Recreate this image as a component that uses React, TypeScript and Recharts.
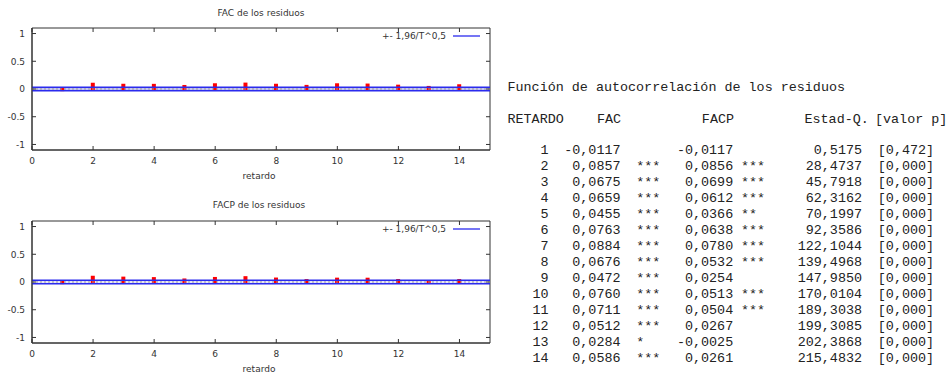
import React from 'react';
import { ComposedChart, Bar, XAxis, YAxis, ReferenceLine, ReferenceArea } from 'recharts';

const LAGS = [1, 2, 3, 4, 5, 6, 7, 8, 9, 10, 11, 12, 13, 14];
const FAC = [-0.0117, 0.0857, 0.0675, 0.0659, 0.0455, 0.0763, 0.0884, 0.0676, 0.0472, 0.076, 0.0711, 0.0512, 0.0284, 0.0586];
const FAC_STARS = ['', '***', '***', '***', '***', '***', '***', '***', '***', '***', '***', '***', '*', '***'];
const FACP = [-0.0117, 0.0856, 0.0699, 0.0612, 0.0366, 0.0638, 0.078, 0.0532, 0.0254, 0.0513, 0.0504, 0.0267, -0.0025, 0.0261];
const FACP_STARS = ['', '***', '***', '***', '**', '***', '***', '***', '', '***', '***', '', '', ''];
const Q_STAT = [0.5175, 28.4737, 45.7918, 62.3162, 70.1997, 92.3586, 122.1044, 139.4968, 147.985, 170.0104, 189.3038, 199.3085, 202.3868, 215.4832];
const P_VALUE = [0.472, 0, 0, 0, 0, 0, 0, 0, 0, 0, 0, 0, 0, 0];
const X_TICKS = [0, 2, 4, 6, 8, 10, 12, 14];
const Y_TICKS = [-1, -0.5, 0, 0.5, 1];
const BAND = 0.0319;
const LEGEND_LABEL = '+- 1,96/T^0,5';

const PLOT_LEFT = 32;
const PLOT_RIGHT = 490;
const AX = '#333';
const SANS = '"DejaVu Sans", Verdana, sans-serif';
const MONO = '"Courier New", "Liberation Mono", monospace';

const fmt = (v: number, d: number) => v.toFixed(d).replace('.', ',');

function makeXTick(top: number, bottom: number) {
  return (props: any) => {
    const { x, payload } = props;
    return (
      <g>
        <line x1={x} x2={x} y1={bottom} y2={bottom - 4} stroke={AX} />
        <line x1={x} x2={x} y1={top} y2={top + 4} stroke={AX} />
        <text x={x} y={bottom + 13.5} textAnchor="middle" fontFamily={SANS} fontSize={9} fill="#333">
          {payload.value}
        </text>
      </g>
    );
  };
}

const YTick = (props: any) => {
  const { y, payload } = props;
  return (
    <g>
      <line x1={PLOT_LEFT} x2={PLOT_LEFT + 4} y1={y} y2={y} stroke={AX} />
      <line x1={PLOT_RIGHT} x2={PLOT_RIGHT - 4} y1={y} y2={y} stroke={AX} />
      <text x={25} y={y + 3.3} textAnchor="end" fontFamily={SANS} fontSize={9} fill="#333">
        {String(payload.value)}
      </text>
    </g>
  );
};

const ImpulseShape = (props: any) => {
  const { x, y, width, height } = props;
  const cx = x + width / 2;
  const t = Math.min(y, y + height) - 1.5;
  const b = Math.max(y, y + height) + 1.5;
  return <rect x={cx - 2} y={t} width={4} height={b - t} fill="#ff0000" />;
};

function CorrPlot(p: { values: number[]; top: number; height: number; plotTop: number; plotBottom: number; bandFill: string }) {
  const data = LAGS.map((lag, i) => ({ lag, value: p.values[i] }));
  return (
    <div style={{ position: 'absolute', left: 0, top: p.top, width: 500, height: p.height }}>
      <ComposedChart
        width={500}
        height={p.height}
        data={data}
        margin={{ top: p.plotTop, right: 500 - PLOT_RIGHT, bottom: p.height - p.plotBottom - 20, left: 0 }}
      >
        <XAxis
          type="number"
          dataKey="lag"
          domain={[0, 15]}
          ticks={X_TICKS}
          interval={0}
          allowDataOverflow
          axisLine={{ stroke: AX }}
          tickLine={false}
          tick={makeXTick(p.plotTop, p.plotBottom)}
          height={20}
        />
        <YAxis
          type="number"
          domain={[-1.1, 1.1]}
          ticks={Y_TICKS}
          interval={0}
          allowDataOverflow
          axisLine={{ stroke: AX }}
          tickLine={false}
          tick={YTick}
          width={PLOT_LEFT}
        />
        <ReferenceArea x1={0} x2={15} y1={-1.1} y2={1.1} fill="none" stroke={AX} strokeWidth={1} />
        <ReferenceArea y1={-BAND} y2={BAND} fill={p.bandFill} fillOpacity={1} stroke="none" />
        <ReferenceLine y={0} stroke="#999" strokeDasharray="2 2" />
        <ReferenceLine y={BAND} stroke="#2b2bee" strokeWidth={1.3} />
        <ReferenceLine y={-BAND} stroke="#2b2bee" strokeWidth={1.3} />
        <Bar dataKey="value" barSize={4} shape={ImpulseShape} isAnimationActive={false} />
      </ComposedChart>
    </div>
  );
}

const ROW0 = 153.5;
const ROW_STEP = 16.02;

export default function App() {
  return (
    <div style={{ position: 'absolute', left: 0, top: 0, width: 950, height: 374, background: '#fff', overflow: 'hidden' }}>
      <CorrPlot values={FAC} top={0} height={190} plotTop={28} plotBottom={150} bandFill="#c4c4f4" />
      <CorrPlot values={FACP} top={190} height={184} plotTop={31} plotBottom={153} bandFill="#e6e6fa" />
      <svg width={950} height={374} style={{ position: 'absolute', left: 0, top: 0, pointerEvents: 'none' }}>
        <g fontFamily={SANS} fontSize={9} fill="#333">
          <text x={261} y={15.6} textAnchor="middle">FAC de los residuos</text>
          <text x={259} y={179} textAnchor="middle">retardo</text>
          <text x={446} y={39.3} textAnchor="end">{LEGEND_LABEL}</text>
          <text x={259} y={208.3} textAnchor="middle">FACP de los residuos</text>
          <text x={259} y={371.5} textAnchor="middle">retardo</text>
          <text x={446} y={232.3} textAnchor="end">{LEGEND_LABEL}</text>
        </g>
        <line x1={453} x2={480} y1={36} y2={36} stroke="#2b2bee" strokeWidth={1.3} />
        <line x1={453} x2={480} y1={229} y2={229} stroke="#2b2bee" strokeWidth={1.3} />
        <g fontFamily={MONO} fontSize={13.4} fill="#222">
          <text x={507.5} y={90.5}>Función de autocorrelación de los residuos</text>
          <text x={507.5} y={123.3}>RETARDO</text>
          <text x={621} y={123.3} textAnchor="end">FAC</text>
          <text x={734} y={123.3} textAnchor="end">FACP</text>
          <text x={804.5} y={123.3}>Estad-Q.</text>
          <text x={875} y={123.3}>[valor p]</text>
          {LAGS.map((lag, i) => {
            const y = ROW0 + i * ROW_STEP;
            return (
              <g key={lag}>
                <text x={548.5} y={y} textAnchor="end">{lag}</text>
                <text x={620.5} y={y} textAnchor="end">{fmt(FAC[i], 4)}</text>
                <text x={636.3} y={y}>{FAC_STARS[i]}</text>
                <text x={733.2} y={y} textAnchor="end">{fmt(FACP[i], 4)}</text>
                <text x={741} y={y}>{FACP_STARS[i]}</text>
                <text x={862} y={y} textAnchor="end">{fmt(Q_STAT[i], 4)}</text>
                <text x={877.8} y={y}>[{fmt(P_VALUE[i], 3)}]</text>
              </g>
            );
          })}
        </g>
      </svg>
    </div>
  );
}
